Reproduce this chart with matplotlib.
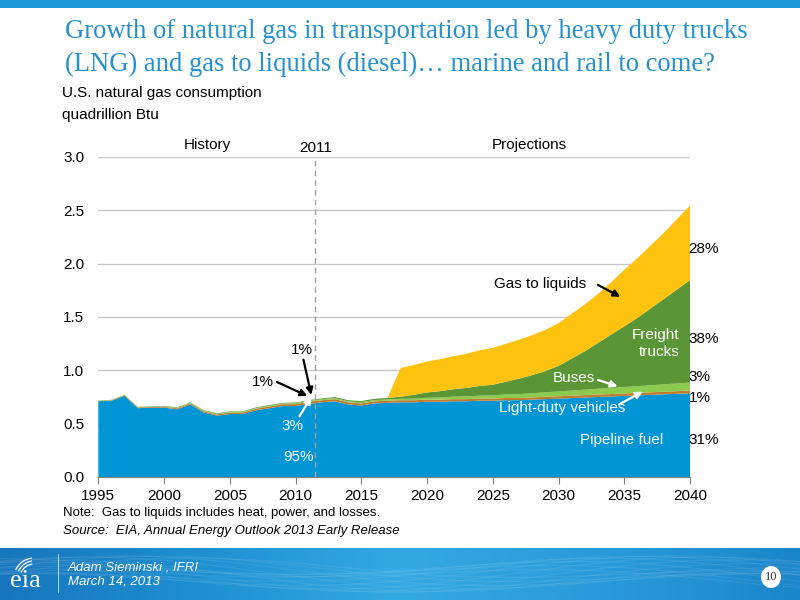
import matplotlib.pyplot as plt
import matplotlib as mpl
from matplotlib.patches import Rectangle, Arc
import numpy as np

years = list(range(1995, 2041))

pipeline_fuel = [0.71, 0.715, 0.76, 0.645, 0.65, 0.65, 0.635, 0.68, 0.605, 0.575,
                 0.59, 0.59, 0.625, 0.645, 0.665, 0.665, 0.685, 0.70, 0.71, 0.68,
                 0.67, 0.69, 0.695, 0.70, 0.70, 0.705, 0.705, 0.71, 0.71, 0.715,
                 0.715, 0.72, 0.72, 0.725, 0.73, 0.735, 0.74, 0.745, 0.75, 0.755,
                 0.76, 0.765, 0.77, 0.775, 0.78, 0.785]
light_duty = [0.003, 0.004, 0.005, 0.006, 0.007, 0.008, 0.009, 0.010, 0.011, 0.012,
              0.013, 0.014, 0.015, 0.016, 0.017, 0.018, 0.02, 0.02, 0.02, 0.02,
              0.02, 0.02, 0.02, 0.02, 0.02, 0.02, 0.02, 0.02, 0.02, 0.02,
              0.02, 0.021, 0.021, 0.021, 0.022, 0.022, 0.022, 0.023, 0.023, 0.023,
              0.023, 0.024, 0.024, 0.024, 0.025, 0.025]
buses = [0.002, 0.002, 0.003, 0.003, 0.004, 0.004, 0.005, 0.005, 0.006, 0.006,
         0.006, 0.007, 0.007, 0.007, 0.007, 0.008, 0.008, 0.009, 0.010, 0.010,
         0.011, 0.011, 0.012, 0.013, 0.015, 0.018, 0.020, 0.023, 0.025, 0.028,
         0.030, 0.033, 0.036, 0.039, 0.042, 0.045, 0.048, 0.051, 0.054, 0.057,
         0.060, 0.063, 0.066, 0.069, 0.072, 0.075]
freight_trucks = [0.002, 0.002, 0.003, 0.003, 0.003, 0.004, 0.004, 0.004, 0.005, 0.005,
                  0.005, 0.005, 0.006, 0.006, 0.006, 0.007, 0.007, 0.008, 0.009, 0.010,
                  0.011, 0.012, 0.015, 0.02, 0.035, 0.05, 0.06, 0.07, 0.08, 0.09,
                  0.10, 0.12, 0.145, 0.17, 0.20, 0.24, 0.30, 0.36, 0.43, 0.50,
                  0.57, 0.64, 0.72, 0.80, 0.88, 0.96]
gas_to_liquids = [0] * 22 + [0.0, 0.27, 0.28, 0.29, 0.30, 0.31, 0.32, 0.335,
                             0.345, 0.355, 0.365, 0.375, 0.385, 0.40, 0.42, 0.44,
                             0.46, 0.49, 0.53, 0.56, 0.59, 0.62, 0.66, 0.70]

colors = ['#0096D6', '#C27B2E', '#8CCB4E', '#5B9636', '#FFC20E']
title_blue = '#2491D0'

plt.rcParams['font.family'] = ['Liberation Sans', 'DejaVu Sans']

fig = plt.figure(figsize=(8, 6), dpi=100)
fig.patch.set_facecolor('white')

# top stripe
fig.add_artist(Rectangle((0, 0.987), 1, 0.013, transform=fig.transFigure,
                         facecolor='#1C9AD6', edgecolor='none'))

fig.text(65 / 800, 1 - 31 / 600, 'Growth of natural gas in transportation led by heavy duty trucks',
         family='Liberation Serif', fontsize=19.2, color=title_blue, va='center')
fig.text(65 / 800, 1 - 64 / 600, '(LNG) and gas to liquids (diesel)\u2026 marine and rail to come?',
         family='Liberation Serif', fontsize=19.2, color=title_blue, va='center')
fig.text(62 / 800, 1 - 93 / 600, 'U.S. natural gas consumption', fontsize=11, va='center')
fig.text(62 / 800, 1 - 115 / 600, 'quadrillion Btu', fontsize=11, va='center')

ax = fig.add_axes([98.3 / 800, 1 - 477 / 600, (690 - 98.3) / 800, (477 - 157) / 600])
ax.stackplot(years, pipeline_fuel, light_duty, buses, freight_trucks, gas_to_liquids,
             colors=colors, linewidth=0)
ax.set_xlim(1995, 2040)
ax.set_ylim(0, 3)
ax.set_yticks(np.arange(0, 3.01, 0.5))
ax.set_yticklabels([f'{v:.1f}' for v in np.arange(0, 3.01, 0.5)])
ax.set_xticks(range(1995, 2041, 5))
ax.grid(axis='y', color='#C8C8C8', linewidth=1)
ax.set_axisbelow(True)
for s in ['top', 'right', 'left']:
    ax.spines[s].set_visible(False)
ax.spines['bottom'].set_color('#808080')
ax.tick_params(axis='y', length=0, labelsize=11, pad=10)
ax.tick_params(axis='x', length=5, color='#808080', labelsize=11, direction='out')

ax.axvline(2011.5, color='#A0A0A0', linestyle=(0, (4, 3)), linewidth=1)

ax.text(2003.3, 3.11, 'History', ha='center', va='center', fontsize=11, clip_on=False)
ax.text(2011.5, 3.08, '2011', ha='center', va='center', fontsize=11, clip_on=False)
ax.text(2027.8, 3.11, 'Projections', ha='center', va='center', fontsize=11, clip_on=False)

# series labels
arrow_k = dict(arrowstyle='-|>', color='black', lw=1.6, mutation_scale=10, shrinkA=0, shrinkB=0)
arrow_w = dict(arrowstyle='-|>', color='white', lw=1.6, mutation_scale=10, shrinkA=0, shrinkB=0)
ax.text(2028.6, 1.81, 'Gas to liquids', ha='center', va='center', fontsize=11)
ax.annotate('', xy=(2034.7, 1.69), xytext=(2033.0, 1.80), arrowprops=arrow_k)
ax.text(2039.2, 1.25, 'Freight\ntrucks', ha='right', va='center', fontsize=11,
        color='white', multialignment='right', linespacing=1.3)
ax.text(2031.2, 0.93, 'Buses', ha='center', va='center', fontsize=11, color='white')
ax.annotate('', xy=(2034.5, 0.85), xytext=(2033.0, 0.91), arrowprops=arrow_w)
ax.text(2030.3, 0.65, 'Light-duty vehicles', ha='center', va='center', fontsize=11, color='white')
ax.annotate('', xy=(2036.4, 0.80), xytext=(2034.6, 0.68), arrowprops=arrow_w)
ax.text(2034.8, 0.35, 'Pipeline fuel', ha='center', va='center', fontsize=11, color='white')

for txt, yv in [('28%', 2.14), ('38%', 1.29), ('3%', 0.94), ('1%', 0.74), ('31%', 0.35)]:
    ax.text(2039.9, yv, txt, ha='left', va='center', fontsize=11, clip_on=False)

ax.text(2010.5, 1.19, '1%', ha='center', va='center', fontsize=11)
ax.annotate('', xy=(2011.2, 0.77), xytext=(2010.6, 1.10), arrowprops=arrow_k)
ax.text(2007.5, 0.89, '1%', ha='center', va='center', fontsize=11)
ax.annotate('', xy=(2010.9, 0.76), xytext=(2008.6, 0.89), arrowprops=arrow_k)
ax.text(2009.8, 0.48, '3%', ha='center', va='center', fontsize=11, color='white')
ax.annotate('', xy=(2011.2, 0.75), xytext=(2010.3, 0.57), arrowprops=arrow_w)
ax.text(2010.2, 0.19, '95%', ha='center', va='center', fontsize=11, color='white')

fig.text(63 / 800, 1 - 513 / 600, 'Note:  Gas to liquids includes heat, power, and losses.',
         fontsize=9.5, va='center')
fig.text(63 / 800, 1 - 531 / 600, 'Source:  EIA, Annual Energy Outlook 2013 Early Release',
         fontsize=9.5, va='center', style='italic')

# footer banner
bax = fig.add_axes([0, 0, 1, 52 / 600])
grad = np.linspace(0, 1, 256)
cmap = mpl.colors.LinearSegmentedColormap.from_list(
    'band', ['#1776BE', '#1E90D2', '#35A9E2', '#2A9BDA', '#1B86CA'])
bax.imshow(np.vstack([grad, grad]), aspect='auto', cmap=cmap, extent=[0, 1, 0, 1])
xs = np.linspace(0, 1, 300)
for k in range(14):
    bax.plot(xs, 0.5 + 0.35 * np.sin(6 * xs + k * 0.35) * np.cos(2 * xs - k * 0.2),
             color='white', alpha=0.08, lw=0.8)
bax.set_xlim(0, 1)
bax.set_ylim(0, 1)
bax.axis('off')

fig.text(25 / 800, 1 - 581 / 600, 'eia', family='Liberation Serif', fontsize=19,
         color='white', ha='center', va='center')
for r in [14, 17, 20]:
    fig.add_artist(Arc((34 / 800, 1 - 578 / 600), 2 * r / 800, 2 * r / 600, theta1=95, theta2=150,
                       transform=fig.transFigure, color='white', lw=0.9))
fig.add_artist(plt.Line2D([58 / 800, 58 / 800], [1 - 592 / 600, 1 - 554 / 600],
                          transform=fig.transFigure, color='white', lw=0.6, alpha=0.8))
fig.text(68 / 800, 1 - 567 / 600, 'Adam Sieminski , IFRI', fontsize=9.5, style='italic',
         color='white', va='center')
fig.text(68 / 800, 1 - 582 / 600, 'March 14, 2013', fontsize=9.5, style='italic',
         color='white', va='center')
fig.add_artist(mpl.patches.Ellipse((771 / 800, 1 - 577 / 600), 20 / 800, 22 / 600,
                                   transform=fig.transFigure, facecolor='white', edgecolor='none'))
fig.text(771 / 800, 1 - 577 / 600, '10', family='Liberation Serif', fontsize=9,
         color='#333333', ha='center', va='center')

fig.savefig('out.png', dpi=100)
